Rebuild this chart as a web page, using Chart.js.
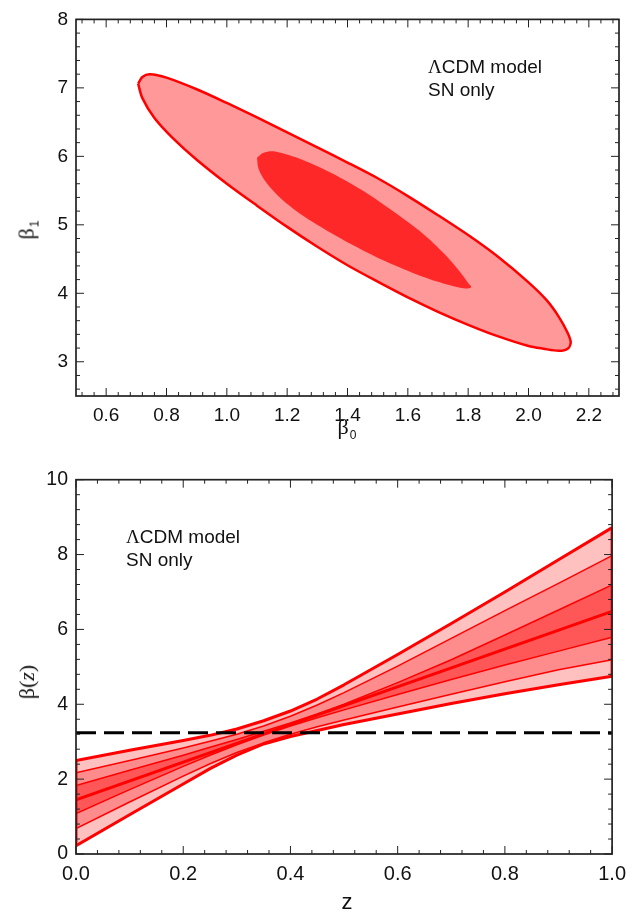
<!DOCTYPE html>
<html>
<head>
<meta charset="utf-8">
<script src="https://cdn.jsdelivr.net/npm/chart.js@4.4.1/dist/chart.umd.min.js"></script>
<style>
  body { margin: 0; background: #fff; width: 634px; height: 915px; position: relative; overflow: hidden;
         font-family: "Liberation Sans", Arial, sans-serif; color: #111; }
  canvas { position: absolute; left: 0; }
  .note { position: absolute; font-size: 19px; line-height: 23px; white-space: nowrap; }
  .note .lam { font-family: "Liberation Serif", serif; }
  .ttl { position: absolute; white-space: nowrap; font-family: "Liberation Serif", serif; font-size: 22px; line-height: 22px; }
  .ttl sub { font-family: "Liberation Sans", Arial, sans-serif; font-size: 12px; vertical-align: baseline; position: relative; top: 5px; margin-left: 1px; }
  .zt { position: absolute; font-size: 22px; line-height: 22px; }
</style>
</head>
<body>
<canvas id="topChart" width="634" height="460" style="top:0px"></canvas>
<canvas id="botChart" width="634" height="455" style="top:460px"></canvas>

<div class="note" style="left:428px; top:55px"><span class="lam">Λ</span>CDM model<br>SN only</div>
<div class="note" style="left:126px; top:525px"><span class="lam">Λ</span>CDM model<br>SN only</div>

<div class="ttl" style="left:347px; top:416px; transform:translateX(-50%)">β<sub>0</sub></div>
<div class="ttl" style="left:28px; top:230px; transform:translate(-50%,-50%) rotate(-90deg)">β<sub>1</sub></div>
<div class="ttl" style="left:27px; top:682px; transform:translate(-50%,-50%) rotate(-90deg)">β(<i>z</i>)</div>
<div class="zt" style="left:347px; top:891px; transform:translateX(-50%)">z</div>

<script>
// ---- top panel: confidence contours in the (beta0, beta1) plane ----
const outerB0 = [0.706, 0.72, 0.745, 0.80, 0.90, 1.00, 1.10, 1.20, 1.30, 1.40, 1.50, 1.60, 1.70, 1.80, 1.90, 2.00, 2.06, 2.10, 2.13, 2.14,
                 2.13, 2.10, 2.05, 2.00, 1.90, 1.80, 1.70, 1.60, 1.50, 1.40, 1.30, 1.20, 1.10, 1.00, 0.90, 0.82, 0.76, 0.72, 0.706];
const outerB1 = [7.06, 7.16, 7.20, 7.15, 6.98, 6.78, 6.57, 6.35, 6.13, 5.91, 5.68, 5.42, 5.14, 4.85, 4.53, 4.16, 3.90, 3.66, 3.42, 3.28,
                 3.19, 3.16, 3.19, 3.23, 3.37, 3.54, 3.73, 3.94, 4.17, 4.41, 4.68, 4.97, 5.28, 5.60, 5.95, 6.27, 6.56, 6.85, 7.06];
const innerB0 = [1.10, 1.12, 1.16, 1.25, 1.35, 1.45, 1.55, 1.65, 1.72, 1.77, 1.80, 1.81,
                 1.79, 1.72, 1.65, 1.55, 1.45, 1.35, 1.25, 1.18, 1.13, 1.105, 1.10];
const innerB1 = [5.98, 6.05, 6.07, 5.95, 5.75, 5.50, 5.20, 4.87, 4.58, 4.33, 4.15, 4.09,
                 4.07, 4.14, 4.24, 4.42, 4.63, 4.87, 5.14, 5.38, 5.62, 5.82, 5.98];
const topXTicks = [0.6, 0.8, 1.0, 1.2, 1.4, 1.6, 1.8, 2.0, 2.2];
const topYTicks = [3, 4, 5, 6, 7, 8];

// ---- bottom panel: beta(z) bands ----
const zGrid = [0, 0.1, 0.2, 0.25, 0.3, 0.35, 0.4, 0.45, 0.5, 0.6, 0.7, 0.8, 0.9, 1.0];
const up3 = [2.50, 2.77, 3.03, 3.17, 3.34, 3.56, 3.82, 4.14, 4.52, 5.33, 6.16, 7.00, 7.86, 8.72];
const up2 = [2.17, 2.50, 2.83, 3.01, 3.20, 3.42, 3.68, 3.98, 4.31, 5.02, 5.76, 6.50, 7.23, 7.97];
const up1 = [1.83, 2.24, 2.64, 2.85, 3.06, 3.28, 3.50, 3.74, 4.00, 4.58, 5.19, 5.85, 6.52, 7.19];
const lo1 = [1.08, 1.72, 2.34, 2.64, 2.92, 3.18, 3.42, 3.64, 3.85, 4.26, 4.66, 5.05, 5.42, 5.79];
const lo2 = [0.68, 1.39, 2.08, 2.41, 2.71, 2.97, 3.20, 3.40, 3.58, 3.93, 4.27, 4.60, 4.92, 5.19];
const lo3 = [0.22, 1.05, 1.87, 2.28, 2.64, 2.94, 3.14, 3.30, 3.46, 3.74, 4.02, 4.28, 4.52, 4.75];
const centerZ = [0, 1];
const centerBeta = [1.45, 6.48];
const refBeta = 3.24;
const botXTicks = [0, 0.2, 0.4, 0.6, 0.8, 1.0];
const botYTicks = [0, 2, 4, 6, 8, 10];

const pts = (xs, ys) => xs.map((v, i) => ({ x: v, y: ys[i] }));
const fontFam = '"Liberation Sans", Arial, sans-serif';

// frame with inward major/minor ticks on all four sides
const frameTicks = {
  id: 'frameTicks',
  afterDraw(chart, args, o) {
    const { ctx, chartArea: a, scales: { x, y } } = chart;
    ctx.save();
    ctx.strokeStyle = '#222';
    ctx.lineWidth = 1;
    const seg = (x1, y1, x2, y2) => { ctx.beginPath(); ctx.moveTo(x1, y1); ctx.lineTo(x2, y2); ctx.stroke(); };
    const walk = (sc, minor, major, fn) => {
      const start = Math.ceil(sc.min / minor - 1e-6);
      const end = Math.floor(sc.max / minor + 1e-6);
      for (let i = start; i <= end; i++) {
        const v = i * minor;
        const r = v / major;
        fn(sc.getPixelForValue(v), Math.abs(r - Math.round(r)) < 1e-6 ? 8 : 4);
      }
    };
    walk(x, o.xMinor, o.xMajor, (p, len) => { seg(p, a.bottom, p, a.bottom - len); seg(p, a.top, p, a.top + len); });
    walk(y, o.yMinor, o.yMajor, (p, len) => { seg(a.left, p, a.left + len, p); seg(a.right, p, a.right - len, p); });
    ctx.lineWidth = 1.7;
    ctx.strokeRect(a.left, a.top, a.right - a.left, a.bottom - a.top);
    ctx.restore();
  }
};

function axis(min, max, ticks, decimals, size, pad, fit) {
  return {
    type: 'linear', min: min, max: max,
    afterBuildTicks: s => { s.ticks = ticks.map(v => ({ value: v })); },
    ticks: { callback: v => v.toFixed(decimals), font: { family: fontFam, size: size }, color: '#111', padding: pad, autoSkip: false, maxRotation: 0 },
    grid: { display: false, drawTicks: false },
    border: { display: false },
    afterFit: fit
  };
}

new Chart(document.getElementById('topChart'), {
  type: 'line',
  data: {
    datasets: [
      { data: pts(innerB0, innerB1), fill: 'shape', backgroundColor: '#FF2828', borderColor: 'rgba(0,0,0,0)', borderWidth: 1, tension: 0.3 },
      { data: pts(outerB0, outerB1), fill: 'shape', backgroundColor: '#FF9999', borderColor: '#FF0000', borderWidth: 2.5, tension: 0.3 }
    ]
  },
  options: {
    responsive: false, animation: false, events: [],
    layout: { padding: { top: 15, right: 15, left: 0, bottom: 0 } },
    elements: { point: { radius: 0 } },
    scales: {
      x: axis(0.5, 2.3, topXTicks, 1, 19, 8, s => { s.height = 64; }),
      y: axis(2.5, 8, topYTicks, 0, 19, 8, s => { s.width = 76; })
    },
    plugins: {
      legend: { display: false }, tooltip: { enabled: false },
      frameTicks: { xMinor: 0.04, xMajor: 0.2, yMinor: 0.2, yMajor: 1 }
    }
  },
  plugins: [frameTicks]
});

const red = '#FF0000';
new Chart(document.getElementById('botChart'), {
  type: 'line',
  data: {
    datasets: [
      { data: pts([0, 1], [refBeta, refBeta]), borderColor: '#000', borderWidth: 3, borderDash: [20, 8], fill: false },
      { data: pts(centerZ, centerBeta), borderColor: red, borderWidth: 3, fill: false },
      { data: pts(zGrid, up1), borderColor: red, borderWidth: 1.5, fill: '+1', backgroundColor: '#FF5757' },
      { data: pts(zGrid, lo1), borderColor: red, borderWidth: 1.5, fill: false },
      { data: pts(zGrid, up2), borderColor: red, borderWidth: 1.5, fill: '+1', backgroundColor: '#FF8C8C' },
      { data: pts(zGrid, lo2), borderColor: red, borderWidth: 1.5, fill: false },
      { data: pts(zGrid, up3), borderColor: red, borderWidth: 3, fill: '+1', backgroundColor: '#FFC0C0' },
      { data: pts(zGrid, lo3), borderColor: red, borderWidth: 3, fill: false },
      { data: pts([zGrid[0], zGrid[0]], [lo3[0], up3[0]]), borderColor: red, borderWidth: 3, fill: false },
      { data: pts([zGrid[zGrid.length - 1], zGrid[zGrid.length - 1]], [lo3[lo3.length - 1], up3[up3.length - 1]]), borderColor: red, borderWidth: 3, fill: false }
    ]
  },
  options: {
    responsive: false, animation: false, events: [],
    layout: { padding: { top: 17, right: 15, left: 0, bottom: 0 } },
    elements: { point: { radius: 0 }, line: { borderJoinStyle: 'round' } },
    scales: {
      x: axis(0, 1, botXTicks, 1, 20, 8, s => { s.height = 61; }),
      y: axis(0, 10, botYTicks, 0, 19.5, 8, s => { s.width = 76; })
    },
    plugins: {
      legend: { display: false }, tooltip: { enabled: false },
      filler: { drawTime: 'beforeDatasetsDraw' },
      frameTicks: { xMinor: 0.04, xMajor: 0.2, yMinor: 0.4, yMajor: 2 }
    }
  },
  plugins: [frameTicks]
});
</script>
</body>
</html>
